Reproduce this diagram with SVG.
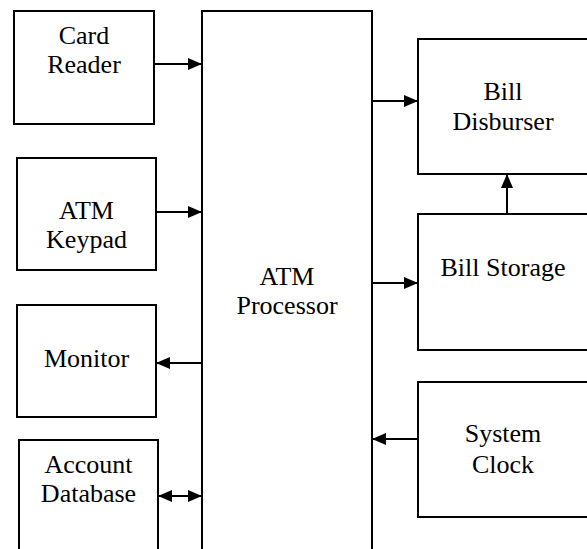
<svg xmlns="http://www.w3.org/2000/svg" width="587" height="549" viewBox="0 0 587 549">
<style>
.box{fill:#fff;stroke:#000;stroke-width:2}
.lbl{font-family:'Liberation Serif','DejaVu Serif',serif;font-size:26px;fill:#000;text-anchor:middle}
.con{stroke:#000;stroke-width:2;fill:none}
</style>
<defs>
<marker id="ah" viewBox="0 0 14 12" refX="14" refY="6" markerWidth="14" markerHeight="12" markerUnits="userSpaceOnUse" orient="auto-start-reverse">
<path d="M0,0 L14,6 L0,12 Z" fill="#000"/>
</marker>
</defs>
<rect width="587" height="549" fill="#fff"/>
<g id="card-reader"><rect class="box" x="14" y="11" width="140" height="113"/><text class="lbl" font-family="Liberation Serif" x="84" y="44">Card</text><text class="lbl" font-family="Liberation Serif" x="84" y="73">Reader</text></g>
<g id="atm-keypad"><rect class="box" x="17" y="158" width="139" height="112"/><text class="lbl" x="86.5" y="219">ATM</text><text class="lbl" x="86.5" y="248">Keypad</text></g>
<g id="monitor"><rect class="box" x="17" y="305" width="139" height="112"/><text class="lbl" x="86.5" y="367">Monitor</text></g>
<g id="account-database"><rect class="box" x="19" y="440" width="139" height="125"/><text class="lbl" x="88.5" y="473">Account</text><text class="lbl" x="88.5" y="502">Database</text></g>
<g id="atm-processor"><rect class="box" x="202" y="11" width="170" height="555"/><text class="lbl" x="287" y="285">ATM</text><text class="lbl" x="287" y="314">Processor</text></g>
<g id="bill-disburser"><rect class="box" x="418" y="39" width="174" height="135"/><text class="lbl" x="503" y="100">Bill</text><text class="lbl" x="503" y="130">Disburser</text></g>
<g id="bill-storage"><rect class="box" x="418" y="214" width="174" height="136"/><text class="lbl" x="503" y="276">Bill Storage</text></g>
<g id="system-clock"><rect class="box" x="418" y="382" width="174" height="135"/><text class="lbl" x="503" y="442">System</text><text class="lbl" x="503" y="473">Clock</text></g>
<g id="connectors">
<path class="con" d="M154,64 H202" marker-end="url(#ah)"/>
<path class="con" d="M156,212 H202" marker-end="url(#ah)"/>
<path class="con" d="M202,363 H156" marker-end="url(#ah)"/>
<path class="con" d="M158,496 H202" marker-start="url(#ah)" marker-end="url(#ah)"/>
<path class="con" d="M372,101 H418" marker-end="url(#ah)"/>
<path class="con" d="M372,283 H418" marker-end="url(#ah)"/>
<path class="con" d="M418,439 H372" marker-end="url(#ah)"/>
<path class="con" d="M507,214 V174" marker-end="url(#ah)"/>
</g>
</svg>
